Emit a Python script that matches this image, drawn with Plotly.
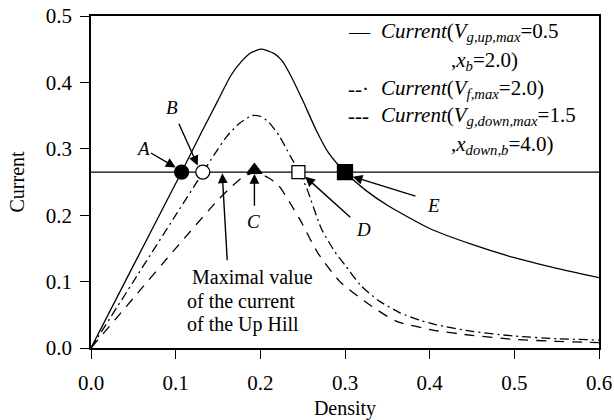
import plotly.graph_objects as go

# ---- data ----
up_x = [0, 0.05, 0.107, 0.131, 0.15, 0.165, 0.178, 0.188, 0.2, 0.208, 0.217, 0.226, 0.236, 0.25, 0.266, 0.28, 0.3, 0.325, 0.35, 0.4, 0.45, 0.5, 0.55, 0.6]
up_y = [0, 0.124, 0.265, 0.326, 0.373, 0.41, 0.432, 0.444, 0.45, 0.448, 0.443, 0.432, 0.41, 0.373, 0.328, 0.295, 0.265, 0.237, 0.215, 0.18, 0.156, 0.136, 0.12, 0.106]

free_x = [0, 0.05, 0.1, 0.132, 0.145, 0.16, 0.175, 0.19, 0.2, 0.21, 0.223, 0.235, 0.246, 0.255, 0.272, 0.288, 0.3, 0.318, 0.339, 0.365, 0.388, 0.408, 0.45, 0.5, 0.55, 0.6]
free_y = [0, 0.1, 0.2, 0.264, 0.29, 0.318, 0.338, 0.35, 0.349, 0.34, 0.318, 0.29, 0.265, 0.24, 0.18, 0.145, 0.125, 0.095, 0.072, 0.053, 0.042, 0.035, 0.025, 0.018, 0.014, 0.012]

down_x = [0, 0.05, 0.1, 0.15, 0.166, 0.18, 0.19, 0.2, 0.21, 0.221, 0.231, 0.247, 0.268, 0.294, 0.329, 0.361, 0.404, 0.45, 0.5, 0.55, 0.6]
down_y = [0, 0.075, 0.15, 0.223, 0.243, 0.258, 0.263, 0.262, 0.256, 0.246, 0.227, 0.193, 0.143, 0.1, 0.065, 0.04, 0.027, 0.019, 0.013, 0.01, 0.008]

level_x = [0, 0.6]
level_y = [0.265, 0.265]

pt_names = ["A", "B", "C", "D", "E"]
pt_x = [0.107, 0.132, 0.193, 0.245, 0.300]
pt_y = [0.265, 0.265, 0.268, 0.265, 0.265]
pt_symbol = ["circle", "circle", "triangle-up", "square", "square"]
pt_fill = ["#000000", "#ffffff", "#000000", "#ffffff", "#000000"]
pt_size = [14, 14, 13, 13, 15]

# label positions and arrow tails/tips (data coords)
lab_x = [0.062, 0.096, 0.192, 0.322, 0.405]
lab_y = [0.30, 0.362, 0.19, 0.178, 0.215]
arr_tail_x = [0.069, 0.103, 0.193, 0.308, 0.385]
arr_tail_y = [0.295, 0.34, 0.212, 0.195, 0.228]
arr_tip_x = [0.1, 0.126, 0.193, 0.253, 0.309]
arr_tip_y = [0.272, 0.275, 0.262, 0.258, 0.258]

note_lines = ["Maximal value", "of the current", "of the Up Hill"]
note_x = [0.117, 0.111, 0.111]
note_y = [0.107, 0.071, 0.036]

FONT = "Liberation Serif"

fig = go.Figure()
fig.add_trace(go.Scatter(x=level_x, y=level_y, mode="lines", line=dict(color="black", width=1.3), showlegend=False))
fig.add_trace(go.Scatter(x=up_x, y=up_y, mode="lines", line=dict(color="black", width=1.3, shape="spline", smoothing=0.6), showlegend=False))
fig.add_trace(go.Scatter(x=free_x, y=free_y, mode="lines", line=dict(color="black", width=1.3, dash="9px,4px,2px,4px", shape="spline", smoothing=0.6), showlegend=False))
fig.add_trace(go.Scatter(x=down_x, y=down_y, mode="lines", line=dict(color="black", width=1.3, dash="10px,8px", shape="spline", smoothing=0.6), showlegend=False))
fig.add_trace(go.Scatter(x=pt_x, y=pt_y, mode="markers", opacity=1,
                         marker=dict(symbol=pt_symbol, color=pt_fill, size=pt_size, opacity=1,
                                     line=dict(color="#000000", width=1.3)),
                         showlegend=False))

ann = []
for n, lx, ly, tx, ty, hx, hy in zip(pt_names, lab_x, lab_y, arr_tail_x, arr_tail_y, arr_tip_x, arr_tip_y):
    ann.append(dict(x=lx, y=ly, xref="x", yref="y", text="<i>%s</i>" % n, showarrow=False,
                    font=dict(family=FONT, size=19, color="black")))
    ann.append(dict(x=hx, y=hy, ax=tx, ay=ty, xref="x", yref="y", axref="x", ayref="y", text="",
                    showarrow=True, arrowhead=2, arrowsize=1.4, arrowwidth=1.4, arrowcolor="black", standoff=0))

# "Maximal value" note
for t, nx, ny in zip(note_lines, note_x, note_y):
    ann.append(dict(x=nx, y=ny, xref="x", yref="y", xanchor="left", yanchor="middle",
                    text=t, showarrow=False, font=dict(family=FONT, size=20, color="black")))
ann.append(dict(x=0.155, y=0.263, ax=0.161, ay=0.13, xref="x", yref="y", axref="x", ayref="y", text="",
                showarrow=True, arrowhead=2, arrowsize=1.4, arrowwidth=1.4, arrowcolor="black", standoff=0))

W, H = 614, 420
L, R, T, B = 91, 15, 16, 72

# legend drawn as text (positions in window pixels)
leg_font = dict(family=FONT, size=21, color="black")
leg = [
    (346, 32, "—"),
    (379, 32, "<i>Current</i>(<i>V</i><sub><i>g,up,max</i></sub>=0.5"),
    (449, 61, ",<i>x</i><sub><i>b</i></sub>=2.0)"),
    (346, 89, "--·"),
    (379, 89, "<i>Current</i>(<i>V</i><sub><i>f,max</i></sub>=2.0)"),
    (346, 116, "---"),
    (379, 116, "<i>Current</i>(<i>V</i><sub><i>g,down,max</i></sub>=1.5"),
    (449, 145, ",<i>x</i><sub><i>down,b</i></sub>=4.0)"),
]
for px, py, t in leg:
    ann.append(dict(x=(px - L) / (W - L - R), y=1 - (py - T) / (H - T - B), xref="paper", yref="paper",
                    xanchor="left", yanchor="middle", text=t, showarrow=False, font=leg_font))

axis_common = dict(showline=True, linecolor="black", linewidth=1.5, mirror=True, ticks="outside",
                   ticklen=9, tickwidth=1.3, tickcolor="black", showgrid=False, zeroline=False,
                   automargin=False,
                   tickfont=dict(family=FONT, size=21, color="black"))

fig.update_layout(
    width=W, height=H,
    margin=dict(l=L, r=R, t=T, b=B, autoexpand=False),
    plot_bgcolor="white", paper_bgcolor="white",
    font=dict(family=FONT, color="black"),
    xaxis=dict(range=[0, 0.6], tickvals=[0, 0.1, 0.2, 0.3, 0.4, 0.5, 0.6],
               ticktext=["0.0", "0.1", "0.2", "0.3", "0.4", "0.5", "0.6"],
               ticklabelstandoff=6,
               title=dict(text="Density", font=dict(family=FONT, size=20, color="black"), standoff=14),
               **axis_common),
    yaxis=dict(range=[0, 0.5], tickvals=[0, 0.1, 0.2, 0.3, 0.4, 0.5],
               ticktext=["0.0", "0.1", "0.2", "0.3", "0.4", "0.5"],
               ticklabelstandoff=4,
               title=dict(text="Current", font=dict(family=FONT, size=20, color="black"), standoff=16),
               **axis_common),
    annotations=ann,
    showlegend=False,
)

fig.write_html("out.html", config={"displayModeBar": False},
               post_script="document.body.style.margin='0';document.body.style.padding='0';")
